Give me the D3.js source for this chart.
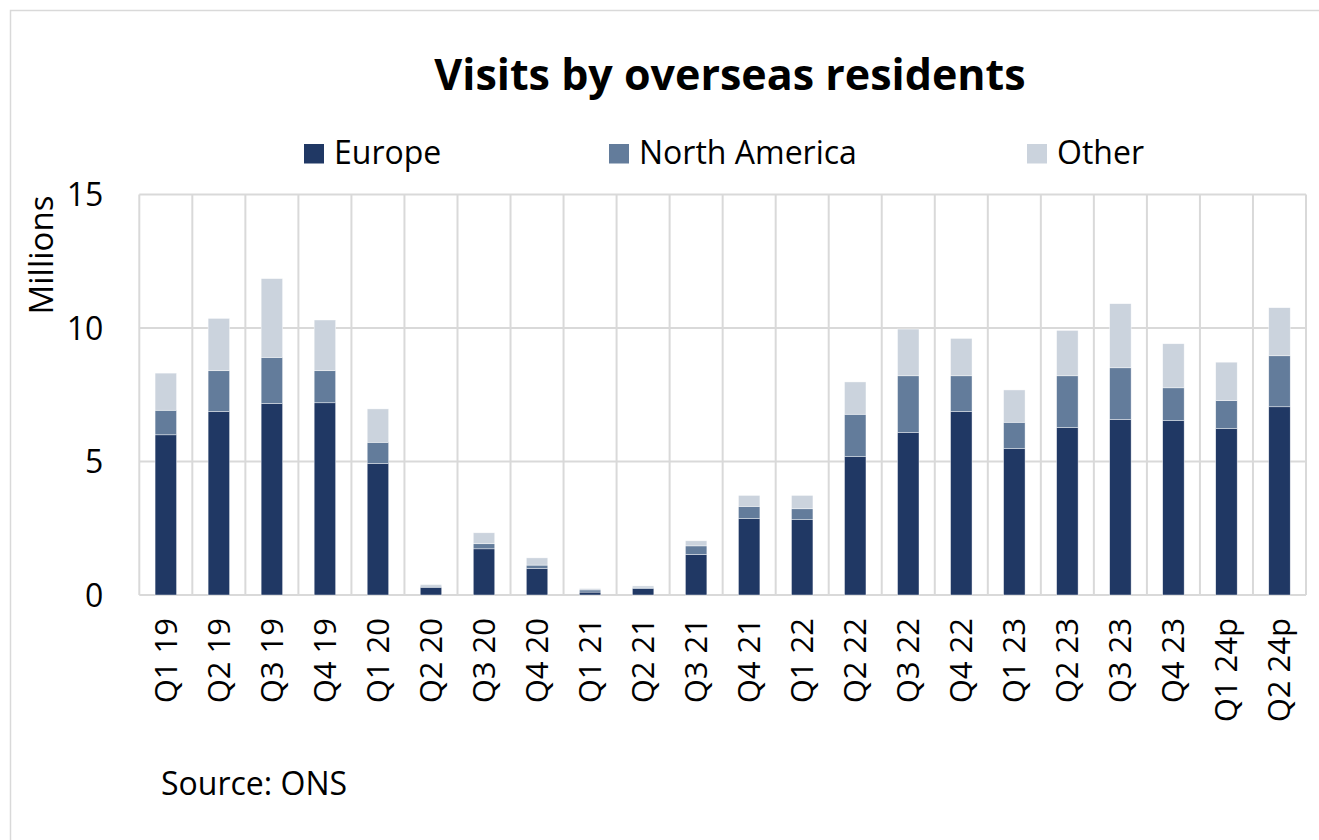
<!DOCTYPE html>
<html>
<head>
<meta charset="utf-8">
<script src="https://cdn.jsdelivr.net/npm/d3@7"></script>
<style>
  body { margin: 0; background: #fff; }
  svg text { font-family: "Open Sans", "Noto Sans", sans-serif; fill: #000; }
</style>
</head>
<body>
<div id="grafiek"></div>
<script>
// kwartalen en bezoeken (miljoenen)
var kwartalen = ["Q1 19", "Q2 19", "Q3 19", "Q4 19", "Q1 20", "Q2 20", "Q3 20", "Q4 20",
                 "Q1 21", "Q2 21", "Q3 21", "Q4 21", "Q1 22", "Q2 22", "Q3 22", "Q4 22",
                 "Q1 23", "Q2 23", "Q3 23", "Q4 23", "Q1 24p", "Q2 24p"];
var europa = [6.00, 6.87, 7.17, 7.20, 4.92, 0.28, 1.73, 0.99, 0.11, 0.24, 1.52, 2.86,
              2.82, 5.18, 6.08, 6.87, 5.48, 6.27, 6.57, 6.53, 6.23, 7.05];
var noordAmerika = [0.92, 1.53, 1.73, 1.20, 0.80, 0.05, 0.19, 0.13, 0.08, 0.05, 0.32, 0.46,
                    0.41, 1.59, 2.13, 1.34, 0.99, 1.94, 1.94, 1.23, 1.05, 1.91];
var overig = [1.39, 1.96, 2.95, 1.90, 1.25, 0.06, 0.41, 0.27, 0.05, 0.05, 0.19, 0.41,
              0.50, 1.21, 1.75, 1.40, 1.21, 1.70, 2.40, 1.65, 1.44, 1.80];
var reeksen = ["Europe", "North America", "Other"];
var yTicks = [0, 5, 10, 15];

var breedte = 1319, hoogte = 840;
var marge = {boven: 194.5, links: 139.3, rechts: 1306, beneden: 595};

var data = kwartalen.map(function(k, i) {
  return {kwartaal: k, "Europe": europa[i], "North America": noordAmerika[i], "Other": overig[i]};
});

var kleur = d3.scaleOrdinal()
              .domain(reeksen)
              .range(["#203864", "#637c9b", "#cbd3dd"]);

var svg = d3.select("#grafiek")
            .append("svg")
            .attr("width", breedte)
            .attr("height", hoogte);

// rand om de grafiek
svg.append("rect")
   .attr("x", 10.5).attr("y", 10.5)
   .attr("width", breedte).attr("height", hoogte)
   .attr("fill", "none")
   .attr("stroke", "#d9d9d9")
   .attr("stroke-width", 1.5);

var x = d3.scaleBand()
          .domain(kwartalen)
          .range([marge.links, marge.rechts])
          .paddingInner(0.595)
          .paddingOuter(0.2975);

var y = d3.scaleLinear()
          .domain([0, 15])
          .range([marge.beneden, marge.boven]);

var stap = x.step();

// rasterlijnen
var raster = svg.append("g").attr("stroke", "#d9d9d9").attr("stroke-width", 2);
raster.selectAll(".h")
      .data(yTicks)
      .enter().append("line")
      .attr("x1", marge.links).attr("x2", marge.rechts)
      .attr("y1", function(d) { return y(d); })
      .attr("y2", function(d) { return y(d); });
raster.selectAll(".v")
      .data(d3.range(kwartalen.length + 1))
      .enter().append("line")
      .attr("x1", function(d) { return marge.links + d * stap; })
      .attr("x2", function(d) { return marge.links + d * stap; })
      .attr("y1", marge.boven).attr("y2", marge.beneden);

// gestapelde staven
var stapel = d3.stack().keys(reeksen)(data);

svg.append("g")
   .selectAll("g")
   .data(stapel)
   .enter().append("g")
   .attr("fill", function(d) { return kleur(d.key); })
   .selectAll("rect")
   .data(function(d) { return d; })
   .enter().append("rect")
   .attr("x", function(d) { return x(d.data.kwartaal); })
   .attr("width", x.bandwidth())
   .attr("y", function(d) { return y(d[1]); })
   .attr("height", function(d) { return y(d[0]) - y(d[1]); })
   .attr("stroke", "#ffffff")
   .attr("stroke-width", 0.6)
   .attr("stroke-opacity", 0.7);

// y-as
var yAs = svg.append("g")
             .attr("transform", "translate(" + (marge.links - 36) + ",0)")
             .call(d3.axisLeft(y).tickValues(yTicks).tickSize(0).tickPadding(0));
yAs.select(".domain").remove();
yAs.selectAll("text").style("font-size", "32px").attr("dy", "0.35em").attr("fill", "#000");

svg.append("text")
   .attr("transform", "translate(53,255) rotate(-90)")
   .attr("text-anchor", "middle")
   .style("font-size", "33px")
   .text("Millions");

// x-as labels
var xAs = svg.append("g")
             .attr("transform", "translate(0," + marge.beneden + ")")
             .call(d3.axisBottom(x).tickSize(0).tickPadding(0));
xAs.select(".domain").remove();
xAs.selectAll("text")
   .style("font-size", "31px")
   .attr("fill", "#000")
   .attr("text-anchor", "end")
   .attr("transform", "rotate(-90)")
   .attr("x", -23)
   .attr("y", 0)
   .attr("dy", "0.35em");

// titel
svg.append("text")
   .attr("x", 730).attr("y", 90)
   .attr("text-anchor", "middle")
   .style("font-size", "43px")
   .style("font-weight", "bold")
   .text("Visits by overseas residents");

// legenda
var legendaX = [304, 609, 1027];
var legenda = svg.append("g");
legenda.selectAll("rect")
       .data(reeksen)
       .enter().append("rect")
       .attr("x", function(d, i) { return legendaX[i]; })
       .attr("y", 144)
       .attr("width", 20).attr("height", 19.5)
       .attr("fill", kleur);
legenda.selectAll("text")
       .data(reeksen)
       .enter().append("text")
       .attr("x", function(d, i) { return legendaX[i] + 30; })
       .attr("y", 164)
       .style("font-size", "32px")
       .text(function(d) { return d; });

// bron
svg.append("text")
   .attr("x", 161).attr("y", 795)
   .style("font-size", "32px")
   .text("Source: ONS");
</script>
</body>
</html>
